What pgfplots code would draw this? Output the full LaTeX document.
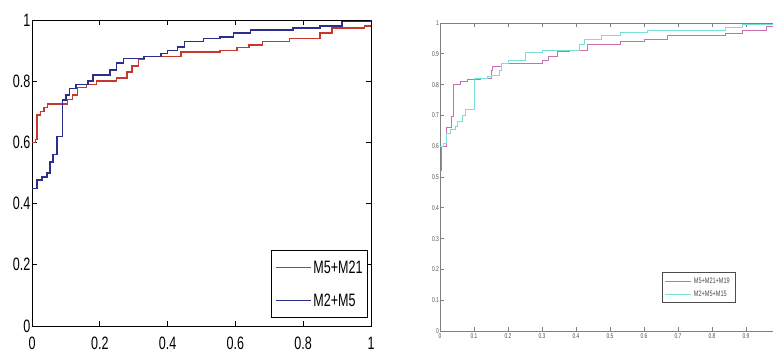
\documentclass[border=0pt]{standalone}
\usepackage{fontspec}
\setmainfont{Liberation Sans}[FakeStretch=0.7]
\usepackage{pgfplots}
\pgfplotsset{compat=1.18}
\definecolor{mred}{RGB}{200,55,45}
\definecolor{mblue}{RGB}{45,45,140}
\definecolor{mmag}{RGB}{200,110,180}
\definecolor{mcyan}{RGB}{120,225,215}
\begin{document}
\begin{tikzpicture}[x=1bp,y=1bp]
\useasboundingbox (0,0) rectangle (773,354);
\clip (0,0) rectangle (773,354);
\begin{axis}[at={(32bp,28bp)}, anchor=south west, scale only axis,
  width=339bp, height=306bp, xmin=0, xmax=1, ymin=0, ymax=1,
  xtick={0,0.2,0.4,0.6,0.8,1}, ytick={0,0.2,0.4,0.6,0.8,1},
  tick align=inside, major tick length=5bp,
  axis line style={black, line width=0.9bp}, tick style={black, line width=0.9bp},
  /pgf/number format/assume math mode=true,
  tick label style={font=\fontsize{18}{18}\selectfont},
  yticklabel style={inner xsep=1.5bp},
  xticklabel style={inner ysep=0bp, yshift=-11bp},
  legend style={at={(0.991,0.026)}, anchor=south east,
    font=\fontsize{18}{18}\selectfont, draw=black, line width=0.9bp,
    inner xsep=3bp, inner ysep=8bp, row sep=15bp},
  legend cell align=left,
  legend image code/.code={\draw[#1,line width=1.4bp] (0bp,0bp) -- (35bp,0bp);},
  ]
\addplot[const plot, mred, line width=1.4bp] coordinates {
(0,0.60) (0.01,0.61) (0.015,0.69) (0.025,0.70) (0.035,0.715) (0.045,0.725)
(0.105,0.74) (0.12,0.755) (0.135,0.78) (0.16,0.79) (0.19,0.80) (0.25,0.81)
(0.28,0.83) (0.295,0.85) (0.315,0.87) (0.33,0.88) (0.44,0.895) (0.555,0.90)
(0.605,0.91) (0.64,0.918) (0.68,0.93) (0.76,0.94) (0.85,0.957) (0.885,0.974)
(0.98,0.98) (1.0,0.98)};
\addlegendentry{M5+M21}
\addplot[const plot, mblue, line width=1.4bp] coordinates {
(0,0.45) (0.015,0.477) (0.03,0.487) (0.044,0.50) (0.053,0.536) (0.062,0.56)
(0.074,0.62) (0.09,0.738) (0.10,0.755) (0.11,0.777) (0.13,0.79) (0.165,0.80)
(0.18,0.82) (0.23,0.837) (0.25,0.86) (0.27,0.875) (0.33,0.88) (0.38,0.89)
(0.40,0.90) (0.43,0.912) (0.45,0.93) (0.505,0.94) (0.555,0.945) (0.595,0.957)
(0.645,0.967) (0.77,0.974) (0.85,0.98) (0.915,0.995) (1.0,1.0)};
\addlegendentry{M2+M5}
\end{axis}
\begin{axis}[at={(440bp,23bp)}, anchor=south west, scale only axis,
  width=340bp, height=308bp, xmin=0, xmax=1, ymin=0, ymax=1,
  xtick={0,0.1,0.2,0.3,0.4,0.5,0.6,0.7,0.8,0.9},
  ytick={0,0.1,0.2,0.3,0.4,0.5,0.6,0.7,0.8,0.9,1},
  tick align=inside, major tick length=4bp,
  axis line style={gray, line width=0.9bp}, tick style={gray, line width=0.7bp},
  /pgf/number format/assume math mode=true,
  tick label style={font=\fontsize{7}{7}\selectfont, text=black!70},
  yticklabel style={inner xsep=1bp},
  xticklabel style={inner ysep=2.5bp},
  legend style={at={(0.868,0.091)}, anchor=south east,
    font=\fontsize{8}{8}\selectfont, draw=black!70, line width=0.6bp,
    inner xsep=3bp, inner ysep=3bp, row sep=2bp, text=black!70},
  legend cell align=left,
  legend image code/.code={\draw[#1,line width=0.9bp] (0bp,0bp) -- (26bp,0bp);},
  ]
\addplot[const plot, mmag, line width=0.9bp] coordinates {
(0,0.52) (0.005,0.60) (0.02,0.66) (0.035,0.695) (0.04,0.80) (0.06,0.81)
(0.08,0.818) (0.12,0.82) (0.15,0.845) (0.155,0.86) (0.18,0.87) (0.30,0.88)
(0.32,0.89) (0.345,0.907) (0.38,0.912) (0.435,0.93) (0.53,0.94) (0.60,0.948)
(0.67,0.958) (0.84,0.965) (0.89,0.977) (0.96,0.99) (1.0,1.0)};
\addlegendentry{M5+M21+M19}
\addplot[const plot, mcyan, line width=0.9bp] coordinates {
(0,0.60) (0.01,0.61) (0.02,0.64) (0.03,0.655) (0.045,0.665) (0.05,0.68)
(0.065,0.70) (0.075,0.72) (0.10,0.82) (0.14,0.825) (0.15,0.83) (0.175,0.845)
(0.18,0.87) (0.20,0.88) (0.25,0.906) (0.30,0.912) (0.41,0.93) (0.425,0.945)
(0.475,0.96) (0.53,0.97) (0.61,0.977) (0.84,0.987) (0.89,0.995) (1.0,1.0)};
\addlegendentry{M2+M5+M15}
\end{axis}
\end{tikzpicture}
\end{document}
